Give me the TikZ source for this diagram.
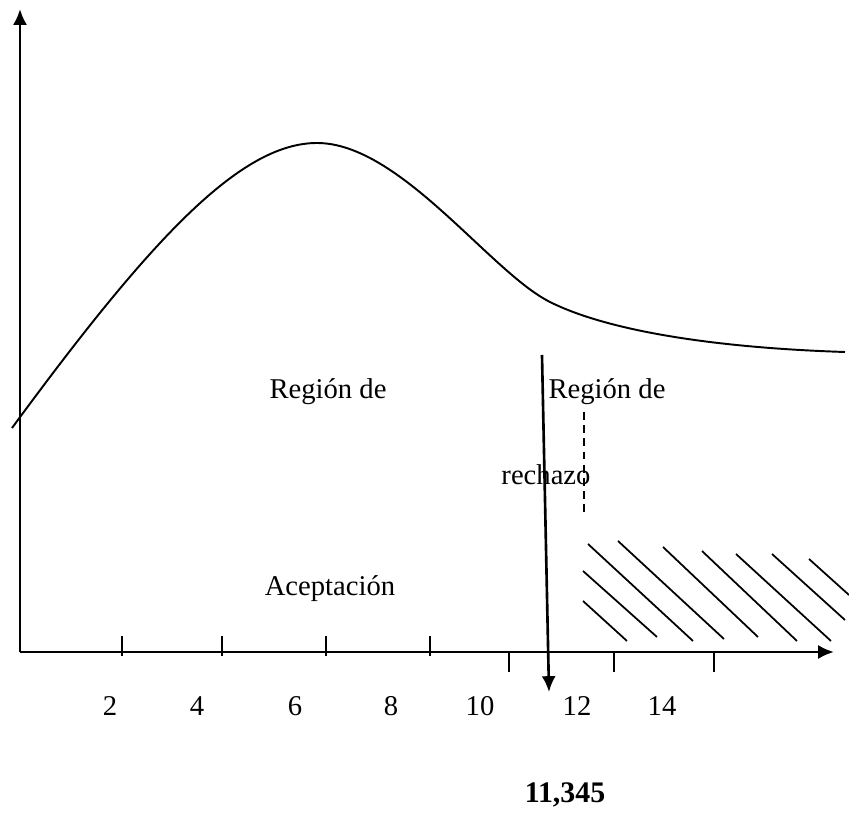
\documentclass[tikz,border=0pt]{standalone}
\usepackage{fontspec}
\setmainfont{Liberation Serif}
\usetikzlibrary{calc,arrows.meta}

\begin{document}
\begin{tikzpicture}[x=0.02cm,y=-0.02cm,every node/.style={font=\fontsize{16.3}{19}\selectfont,inner sep=0pt},link/.style={-{Latex[length=9pt,width=8pt]},line width=1.5pt},ticks/.style={line width=1.4pt},hatch/.style={line width=1pt}]
      \useasboundingbox (0,0) rectangle (849,813);

      % axes
      \coordinate (origin) at (20,652);
      \coordinate (ytop) at (20,9);
      \coordinate (xend) at (834,652);
      \draw[link] (origin) -- (ytop);
      \draw[link] (origin) -- (xend);

      % ticks
      \foreach \x in {122,222,326,430} \draw[ticks] (\x,636) -- (\x,656);
      \foreach \x in {509,614,714} \draw[ticks] (\x,652) -- (\x,672);

      % tick labels
      \node (l2) at (110,706) {2};
      \node (l4) at (197,706) {4};
      \node (l6) at (295,706) {6};
      \node (l8) at (391,706) {8};
      \node (l10) at (480,706) {10};
      \node (l12) at (577,706) {12};
      \node (l14) at (662,706) {14};

      % density curve
      \draw[line width=1.1pt] (12,428) .. controls (150,240) and (240,143) .. (317,143)
        .. controls (400,143) and (490,272) .. (550,302)
        .. controls (610,332) and (720,348) .. (845,352);

      % labels of the regions
      \node (aceptacion1) at (328,392) {Región de};
      \node (aceptacion2) at (330,589) {Aceptación};
      \node (rechazo1) at (607,392) {Región de};
      \node (rechazo2) at (546,475) {rechazo};

      % critical value
      \coordinate (critop) at (542,355);
      \coordinate (critbot) at (549,692);
      \draw[link] (critop) -- (critbot);
      \node[font=\fontsize{17}{20}\selectfont\bfseries] (critval) at (565,795) {11,345};

      % dashed divider
      \draw[line width=1pt,dash pattern=on 4.5pt off 3pt] (584,412) -- (584,517);

      % hatched rejection region
      \draw[hatch] (583,601) -- (627,641);
      \draw[hatch] (583,571) -- (657,637);
      \draw[hatch] (588,544) -- (693,641);
      \draw[hatch] (618,541) -- (724,639);
      \draw[hatch] (663,547) -- (758,637);
      \draw[hatch] (702,551) -- (797,641);
      \draw[hatch] (736,554) -- (831,641);
      \draw[hatch] (772,554) -- (845,620);
      \draw[hatch] (809,559) -- (849,595);
    \end{tikzpicture}
\end{document}
